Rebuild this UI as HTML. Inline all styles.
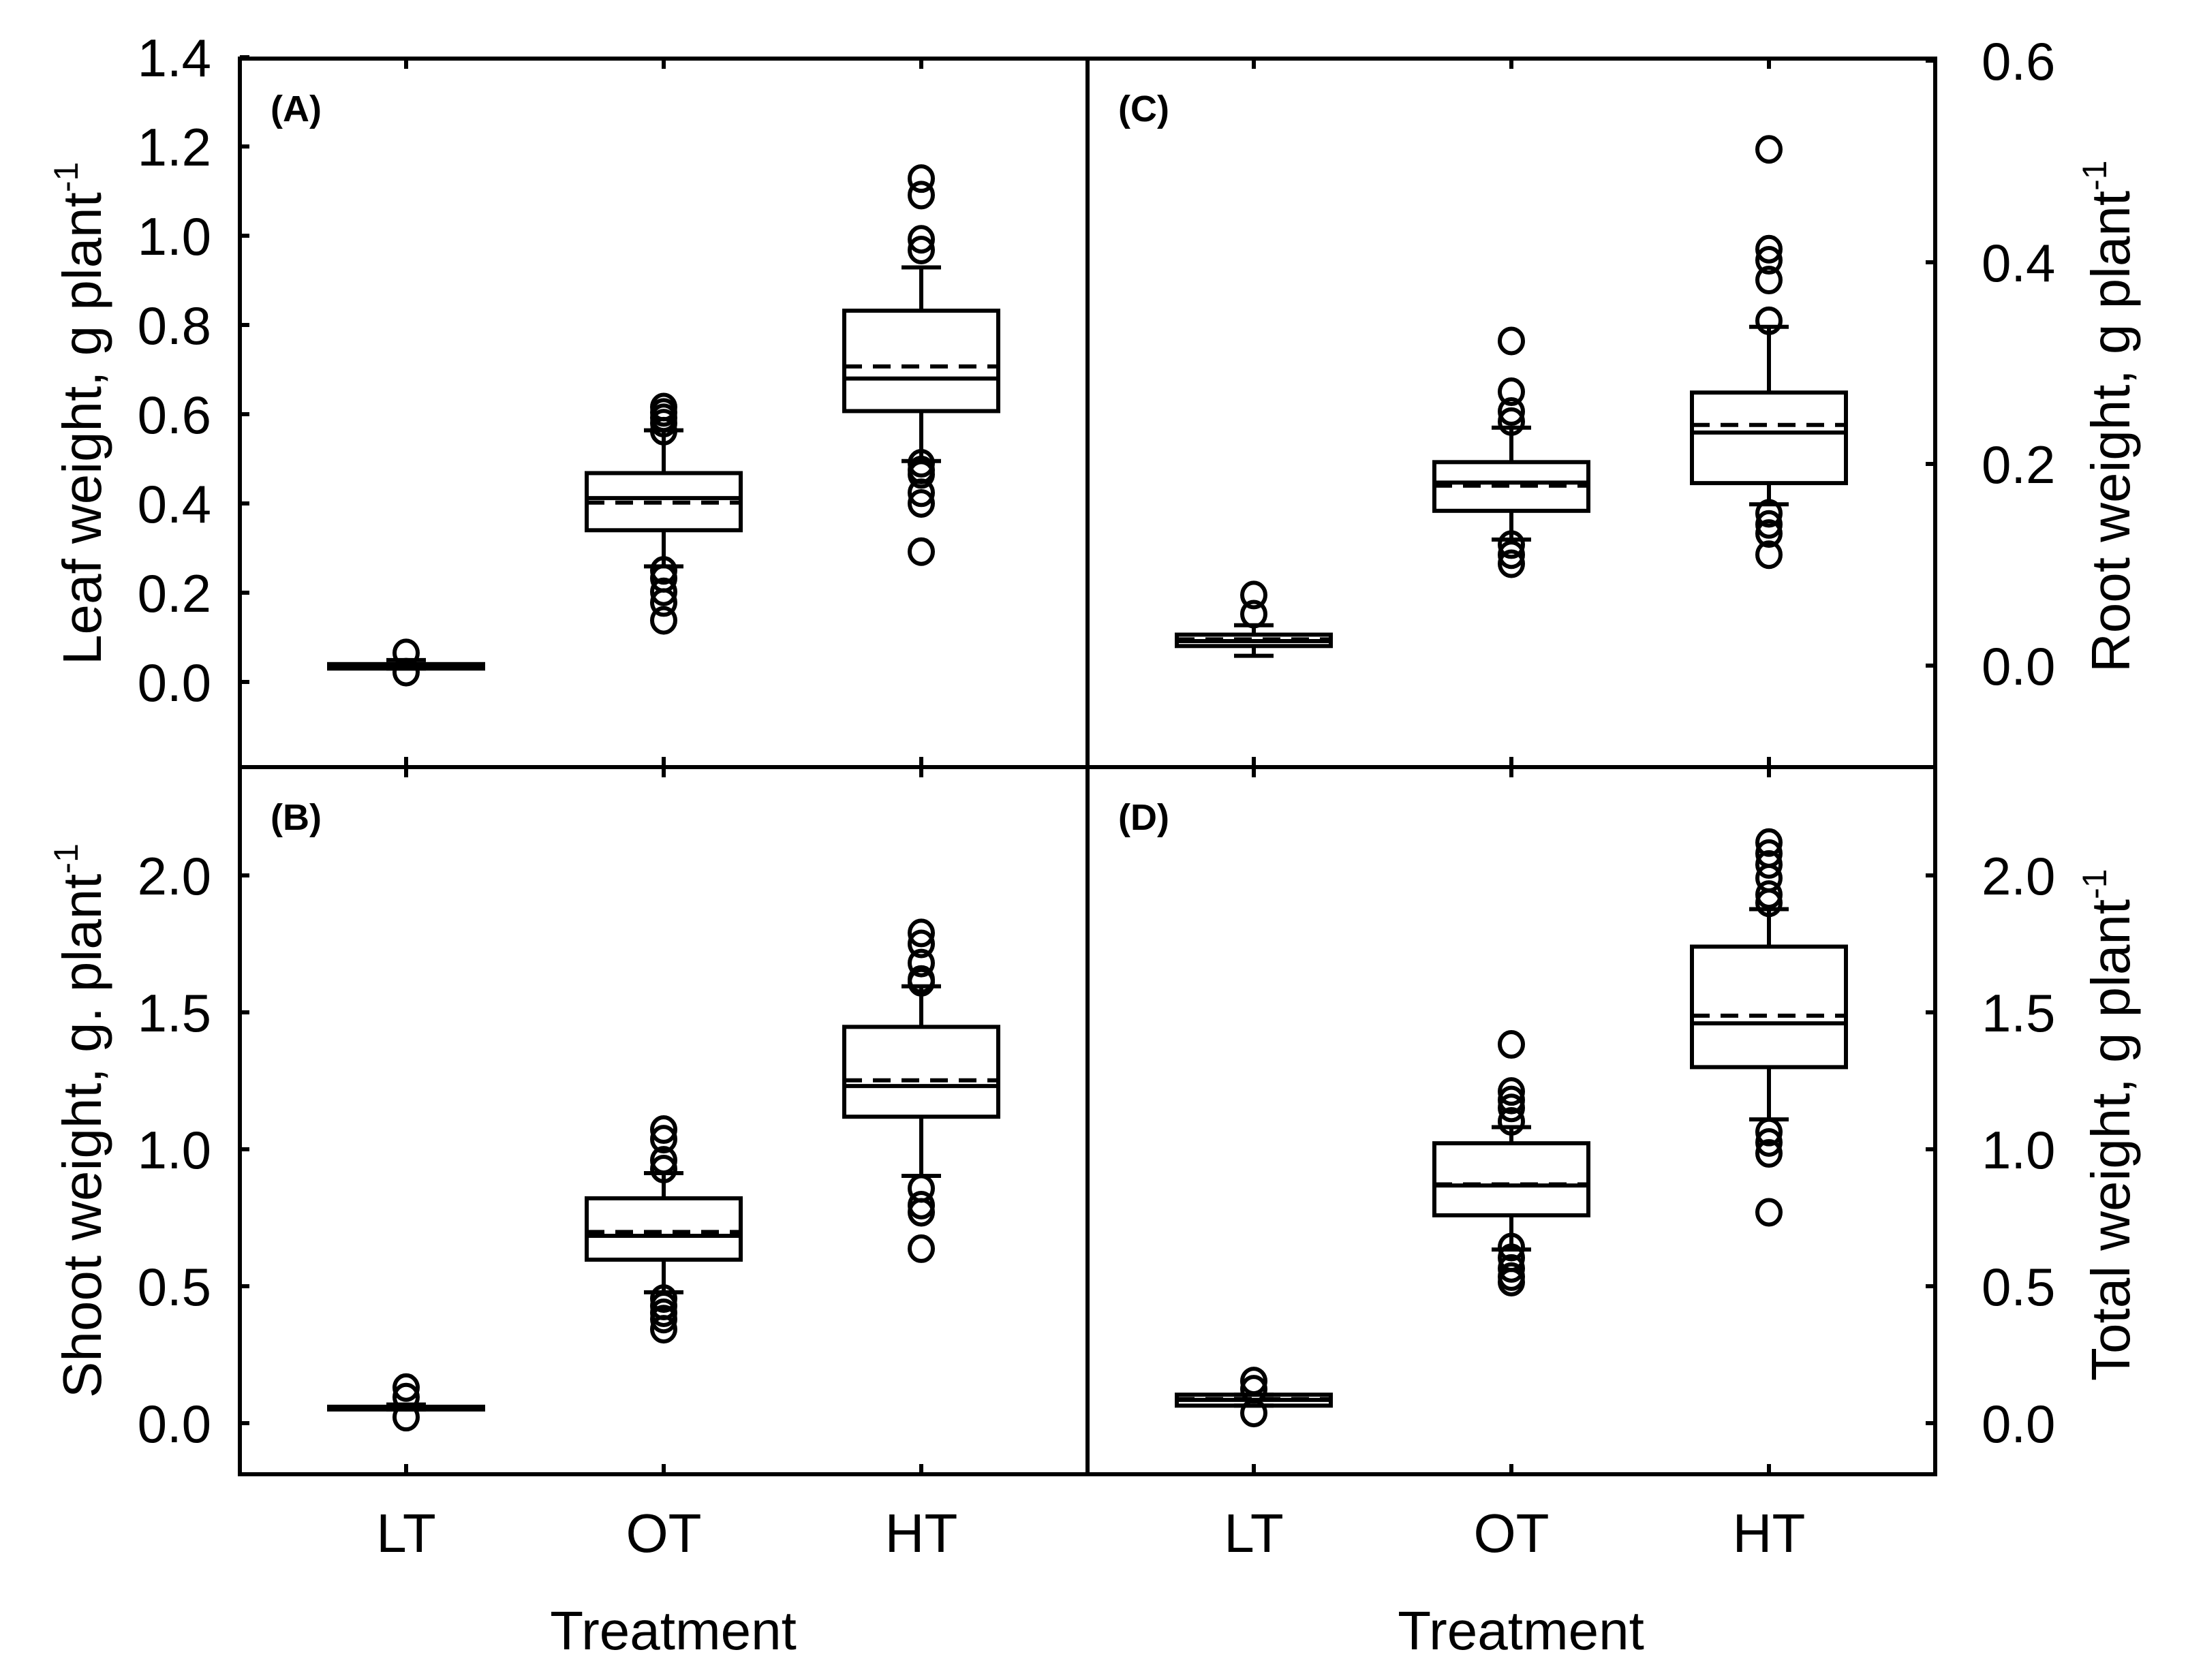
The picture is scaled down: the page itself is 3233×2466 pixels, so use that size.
<!DOCTYPE html>
<html><head><meta charset="utf-8">
<style>
html,body{margin:0;padding:0;background:#fff;}
svg{display:block;font-family:"Liberation Sans",Arial,sans-serif;}
</style></head>
<body>
<svg id="chart" width="3233" height="2466" viewBox="0 0 3233 2466" xmlns="http://www.w3.org/2000/svg"></svg>
<script>
// ---------- data ----------
const categories = ["LT","OT","HT"];

// Panel A: leaf weight
const aQ1 = [0.030, 0.340, 0.607];
const aMedian = [0.035, 0.412, 0.680];
const aQ3 = [0.040, 0.468, 0.832];
const aMean = [0.035, 0.402, 0.707];
const aWhiskLo = [0.030, 0.259, 0.495];
const aWhiskHi = [0.049, 0.564, 0.929];
const aOutliers = [[0.065, 0.022], [0.616,0.604,0.592,0.580,0.562,0.250,0.232,0.202,0.178,0.138], [1.128,1.091,0.992,0.968,0.490,0.475,0.465,0.424,0.400,0.292]];
const aTicks = ["0.0","0.2","0.4","0.6","0.8","1.0","1.2","1.4"];

// Panel B: shoot weight
const bQ1 = [0.050, 0.597, 1.119];
const bMedian = [0.055, 0.684, 1.231];
const bQ3 = [0.060, 0.821, 1.447];
const bMean = [0.057, 0.698, 1.252];
const bWhiskLo = [0.050, 0.478, 0.903];
const bWhiskHi = [0.068, 0.913, 1.595];
const bOutliers = [[0.130, 0.095, 0.022], [1.072,1.037,0.960,0.928,0.455,0.428,0.403,0.380,0.343], [1.790,1.750,1.680,1.620,1.610,0.857,0.796,0.770,0.637]];
const bTicks = ["0.0","0.5","1.0","1.5","2.0"];

// Panel C: root weight
const cQ1 = [0.0194, 0.1535, 0.181];
const cMedian = [0.0243, 0.1815, 0.2312];
const cQ3 = [0.0307, 0.2018, 0.2708];
const cMean = [0.026, 0.1785, 0.2387];
const cWhiskLo = [0.0097, 0.125, 0.160];
const cWhiskHi = [0.040, 0.236, 0.336];
const cOutliers = [[0.070, 0.051], [0.322,0.2716,0.252,0.242,0.120,0.110,0.101], [0.512,0.413,0.402,0.3824,0.342,0.151,0.140,0.131,0.110]];
const cTicks = ["0.0","0.2","0.4","0.6"];

// Panel D: total weight
const dQ1 = [0.064, 0.759, 1.300];
const dMedian = [0.085, 0.868, 1.460];
const dQ3 = [0.104, 1.022, 1.740];
const dMean = [0.088, 0.872, 1.488];
const dWhiskLo = [0.064, 0.634, 1.109];
const dWhiskHi = [0.104, 1.081, 1.877];
const dOutliers = [[0.154, 0.124, 0.037], [1.383,1.211,1.180,1.151,1.102,0.643,0.604,0.565,0.535,0.515], [2.120,2.080,2.040,1.990,1.930,1.900,1.063,1.025,0.985,0.770]];
const dTicks = ["0.0","0.5","1.0","1.5","2.0"];

// ---------- drawing ----------
const NS = "http://www.w3.org/2000/svg";
const svg = document.getElementById("chart");
function mk(tag, attrs, parent){
  const e = document.createElementNS(NS, tag);
  for (const k in attrs) e.setAttribute(k, attrs[k]);
  (parent||svg).appendChild(e);
  return e;
}
const L = 352, M = 1596, R = 2840, T = 86, MID = 1126, B = 2164;
const SW = 6;
const catOffset = [244, 622, 1000];
const HALF = 113, CAP = 29, RAD = 17;

const panels = [
  {id:"a", label:"(A)", x0:L, x1:M, y0:T, y1:MID, zeroPx:1001, perUnit:655, ticks:aTicks, side:"left",
   q1:aQ1, med:aMedian, q3:aQ3, mean:aMean, wl:aWhiskLo, wh:aWhiskHi, out:aOutliers},
  {id:"b", label:"(B)", x0:L, x1:M, y0:MID, y1:B, zeroPx:2089, perUnit:402, ticks:bTicks, side:"left",
   q1:bQ1, med:bMedian, q3:bQ3, mean:bMean, wl:bWhiskLo, wh:bWhiskHi, out:bOutliers},
  {id:"c", label:"(C)", x0:M, x1:R, y0:T, y1:MID, zeroPx:977, perUnit:1480, ticks:cTicks, side:"right",
   q1:cQ1, med:cMedian, q3:cQ3, mean:cMean, wl:cWhiskLo, wh:cWhiskHi, out:cOutliers},
  {id:"d", label:"(D)", x0:M, x1:R, y0:MID, y1:B, zeroPx:2089, perUnit:402, ticks:dTicks, side:"right",
   q1:dQ1, med:dMedian, q3:dQ3, mean:dMean, wl:dWhiskLo, wh:dWhiskHi, out:dOutliers},
];

panels.forEach(p => {
  const g = mk("g", {});
  
  
  const y = v => p.zeroPx - p.perUnit * v;
  const x = i => p.x0 + catOffset[i];

  p.ticks.forEach(t => {
    const v = parseFloat(t), yy = y(v);
    const tk = mk("line", p.side==="left" ? {x1:p.x0, x2:p.x0+14, y1:yy, y2:yy} : {x1:p.x1-14, x2:p.x1, y1:yy, y2:yy}, g);
    tk.setAttribute("stroke","#000"); tk.setAttribute("stroke-width",SW);
    
    
    const lb = mk("text", p.side==="left" ? {x:310, y:yy+28, "text-anchor":"end"} : {x:2908, y:yy+28, "text-anchor":"start"}, g);
    lb.setAttribute("font-size","78");
    lb.textContent = t;
    
    
  });

  categories.forEach((c,i) => {
    const xx = x(i);
    const top = mk("line", {x1:xx, x2:xx, y1:p.y0, y2:p.y0+15, stroke:"#000", "stroke-width":SW}, g);
    
    
    const bot = mk("line", {x1:xx, x2:xx, y1:p.y1-15, y2:p.y1, stroke:"#000", "stroke-width":SW}, g);
    
    
  });

  const pl = mk("text", {x:p.x0+45, y:p.y0+92, "font-size":"54", "font-weight":"bold"}, g);
  pl.textContent = p.label;
  
  

  categories.forEach((c,i) => {
    const xx = x(i);
    const bg = mk("g", {stroke:"#000", "stroke-width":SW, fill:"none"}, g);
    
    
    mk("line", {x1:xx, x2:xx, y1:y(p.q3[i]), y2:y(p.wh[i])}, bg);
    mk("line", {x1:xx, x2:xx, y1:y(p.q1[i]), y2:y(p.wl[i])}, bg);
    mk("line", {x1:xx-CAP, x2:xx+CAP, y1:y(p.wh[i]), y2:y(p.wh[i])}, bg);
    mk("line", {x1:xx-CAP, x2:xx+CAP, y1:y(p.wl[i]), y2:y(p.wl[i])}, bg);
    const yt = y(p.q3[i]), yb = y(p.q1[i]);
    mk("rect", {x:xx-HALF, y:yt, width:2*HALF, height:Math.max(yb-yt,1)}, bg);
    mk("line", {x1:xx-HALF, x2:xx+HALF, y1:y(p.med[i]), y2:y(p.med[i])}, bg);
    mk("line", {x1:xx-HALF, x2:xx+HALF, y1:y(p.mean[i]), y2:y(p.mean[i]), "stroke-dasharray":"26 16"}, bg);
    p.out[i].forEach(v => {
      const o = mk("ellipse", {cx:xx, cy:y(v), rx:RAD, ry:RAD+1}, bg);
      
      
    });
  });
});

const frame = mk("g", {stroke:"#000", "stroke-width":SW, fill:"none"});


mk("rect", {x:L, y:T, width:R-L, height:B-T}, frame);
mk("line", {x1:L, x2:R, y1:MID, y2:MID}, frame);
mk("line", {x1:M, x2:M, y1:T, y2:B}, frame);

[L, M].forEach((x0, k) => {
  categories.forEach((c,i) => {
    const t = mk("text", {x:x0+catOffset[i], y:2278, "font-size":"80", "text-anchor":"middle"});
    t.textContent = c;
    
    
  });
  const tt = mk("text", {x:x0+catOffset[1]+14, y:2421, "font-size":"80", "text-anchor":"middle"});
  tt.textContent = "Treatment";
  
  
});

function ytitle(text, bx, by, name){
  const t = mk("text", {x:0, y:0, "font-size":"80", transform:`translate(${bx},${by}) rotate(-90)`});
  
  
  const s1 = mk("tspan", {}, t); s1.textContent = text;
  const s2 = mk("tspan", {dy:"-34", "font-size":"50"}, t); s2.textContent = "-1";
}
ytitle("Leaf weight, g plant", 148, 976, "y-axis-title-leaf");
ytitle("Shoot weight, g. plant", 148, 2052, "y-axis-title-shoot");
ytitle("Root weight, g plant", 3125, 987, "y-axis-title-root");
ytitle("Total weight, g plant", 3125, 2027, "y-axis-title-total");
</script>
</body></html>
